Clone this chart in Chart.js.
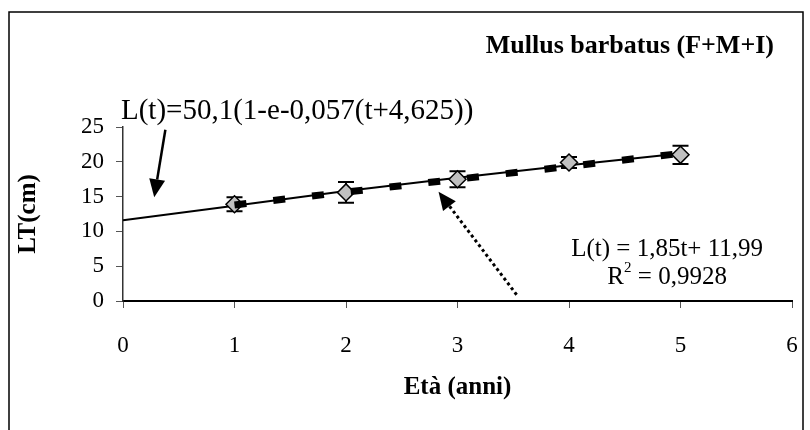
<!DOCTYPE html>
<html>
<head>
<meta charset="utf-8">
<script src="https://cdn.jsdelivr.net/npm/chart.js@4.4.1/dist/chart.umd.min.js"></script>
<style>
  html, body { margin: 0; padding: 0; background: #fff; }
  #wrap { width: 810px; height: 430px; }
</style>
</head>
<body>
<div id="wrap"><canvas id="growthChart" width="810" height="430"></canvas></div>
<script>
// observed mean length at age, with its spread
const ages = [1, 2, 3, 4, 5];
const meanLT = [13.9, 15.6, 17.5, 19.9, 21.0];
const errLT = [1.0, 1.5, 1.15, 0.8, 1.3];

// von Bertalanffy curve
const curveAges = [0, 1, 2, 3, 4, 5];
const curveLT = [11.6, 13.7, 15.8, 17.7, 19.5, 21.2];

// linear trend line ends
const trendAges = [1, 5];
const trendLT = [13.8, 21.2];

const xTicks = [0, 1, 2, 3, 4, 5, 6];
const yTicks = [0, 5, 10, 15, 20, 25];

const SERIF = "'Liberation Serif', 'Times New Roman', serif";

const pts = (xs, ys) => xs.map((x, i) => ({ x: x, y: ys[i] }));

function arrow(ctx, x0, y0, x1, y1, dotted) {
    const dx = x1 - x0, dy = y1 - y0;
    const len = Math.hypot(dx, dy);
    const ux = dx / len, uy = dy / len;
    const headLen = 18, headW = 8;
    const bx = x1 - ux * headLen, by = y1 - uy * headLen;
    ctx.save();
    ctx.strokeStyle = "#000";
    ctx.fillStyle = "#000";
    ctx.lineWidth = dotted ? 3 : 2.5;
    if (dotted) ctx.setLineDash([3, 3]);
    ctx.beginPath();
    ctx.moveTo(x0, y0);
    ctx.lineTo(bx, by);
    ctx.stroke();
    ctx.setLineDash([]);
    ctx.beginPath();
    ctx.moveTo(x1, y1);
    ctx.lineTo(bx - uy * headW, by + ux * headW);
    ctx.lineTo(bx + uy * headW, by - ux * headW);
    ctx.closePath();
    ctx.fill();
    ctx.restore();
}

const decorations = {
    id: "decorations",
    beforeDraw(chart) {
        const ctx = chart.ctx;
        ctx.save();
        ctx.fillStyle = "#fff";
        ctx.fillRect(0, 0, chart.width, chart.height);
        ctx.restore();
    },
    beforeDatasetsDraw(chart) {
        const ctx = chart.ctx;
        const xs = chart.scales.x, ys = chart.scales.y;
        ctx.save();
        ctx.strokeStyle = "#000";
        ctx.lineWidth = 2;
        ages.forEach((a, i) => {
            const px = xs.getPixelForValue(a);
            const top = ys.getPixelForValue(meanLT[i] + errLT[i]);
            const bot = ys.getPixelForValue(meanLT[i] - errLT[i]);
            ctx.beginPath();
            ctx.moveTo(px, top); ctx.lineTo(px, bot);
            ctx.moveTo(px - 8, top); ctx.lineTo(px + 8, top);
            ctx.moveTo(px - 8, bot); ctx.lineTo(px + 8, bot);
            ctx.stroke();
        });
        ctx.restore();
    },
    afterDraw(chart) {
        const ctx = chart.ctx;
        const xs = chart.scales.x, ys = chart.scales.y;
        const X = (v) => xs.getPixelForValue(v);
        const Y = (v) => ys.getPixelForValue(v);

        ctx.save();
        // outer frame
        ctx.strokeStyle = "#000";
        ctx.lineWidth = 1.5;
        ctx.strokeRect(9, 12, 794, 440);

        ctx.fillStyle = "#000";
        ctx.textBaseline = "middle";

        ctx.font = "bold 26px " + SERIF;
        ctx.textAlign = "right";
        ctx.fillText("Mullus barbatus (F+M+I)", 774, 46);

        ctx.font = "29px " + SERIF;
        ctx.textAlign = "left";
        ctx.fillText("L(t)=50,1(1-e-0,057(t+4,625))", X(0) - 2, Y(27.3));

        ctx.font = "25px " + SERIF;
        ctx.textAlign = "center";
        ctx.fillText("L(t) = 1,85t+ 11,99", X(4.88), Y(7.4));

        // R^2 with a raised 2
        const rA = "R", rB = " = 0,9928";
        const wA = ctx.measureText(rA).width, wB = ctx.measureText(rB).width;
        ctx.font = "15px " + SERIF;
        const w2 = ctx.measureText("2").width;
        const startX = X(4.88) - (wA + w2 + wB) / 2;
        const ry = Y(3.4);
        ctx.textAlign = "left";
        ctx.font = "25px " + SERIF;
        ctx.fillText(rA, startX, ry);
        ctx.font = "15px " + SERIF;
        ctx.fillText("2", startX + wA, ry - 9);
        ctx.font = "25px " + SERIF;
        ctx.fillText(rB, startX + wA + w2, ry);
        ctx.restore();

        arrow(ctx, X(0.38), Y(24.6), X(0.28), Y(14.9), false);
        arrow(ctx, X(3.53), Y(0.9), X(2.83), Y(15.7), true);
    }
};

new Chart(document.getElementById("growthChart"), {
    type: "scatter",
    data: {
        datasets: [
            {
                label: "trend",
                data: pts(trendAges, trendLT),
                showLine: true,
                borderColor: "#000",
                borderWidth: 7,
                borderDash: [12, 27],
                borderCapStyle: "butt",
                pointRadius: 0,
                order: 0
            },
            {
                label: "LT",
                data: pts(ages, meanLT),
                pointStyle: "rectRot",
                pointRadius: 8.5,
                pointBackgroundColor: "#c0c0c0",
                pointBorderColor: "#000",
                pointBorderWidth: 1.5,
                order: 1
            },
            {
                label: "VBGF",
                data: pts(curveAges, curveLT),
                showLine: true,
                borderColor: "#000",
                borderWidth: 2,
                pointRadius: 0,
                order: 2
            }
        ]
    },
    options: {
        responsive: false,
        devicePixelRatio: 1,
        animation: false,
        layout: { padding: { left: 0, right: 18, top: 127, bottom: 0 } },
        plugins: {
            legend: { display: false },
            tooltip: { enabled: false }
        },
        scales: {
            x: {
                type: "linear",
                min: xTicks[0],
                max: xTicks[xTicks.length - 1],
                afterBuildTicks: (s) => { s.ticks = xTicks.map((v) => ({ value: v })); },
                afterFit: (s) => {
                    s.height = 129;
                    s.paddingLeft = 0;
                    s.paddingRight = 0;
                },
                border: { color: "#000", width: 2 },
                grid: { drawOnChartArea: false, drawTicks: true, tickLength: 7, color: "#555" },
                ticks: { color: "#000", padding: 24, font: { family: SERIF, size: 23 } },
                title: {
                    display: true,
                    text: "Età (anni)",
                    color: "#000",
                    font: { family: SERIF, size: 25, weight: "bold" },
                    padding: { top: 0, bottom: 27 }
                }
            },
            y: {
                type: "linear",
                min: yTicks[0],
                max: yTicks[yTicks.length - 1],
                afterBuildTicks: (s) => { s.ticks = yTicks.map((v) => ({ value: v })); },
                afterFit: (s) => {
                    s.width = 123;
                    s.paddingTop = 0;
                    s.paddingBottom = 0;
                },
                border: { color: "#333", width: 1.5 },
                grid: { drawOnChartArea: false, drawTicks: true, tickLength: 7, color: "#555" },
                ticks: { color: "#000", padding: 12, font: { family: SERIF, size: 23 } },
                title: {
                    display: true,
                    text: "LT(cm)",
                    color: "#000",
                    font: { family: SERIF, size: 25, weight: "bold" },
                    padding: { top: 14, bottom: 0 }
                }
            }
        }
    },
    plugins: [decorations]
});
</script>
</body>
</html>
